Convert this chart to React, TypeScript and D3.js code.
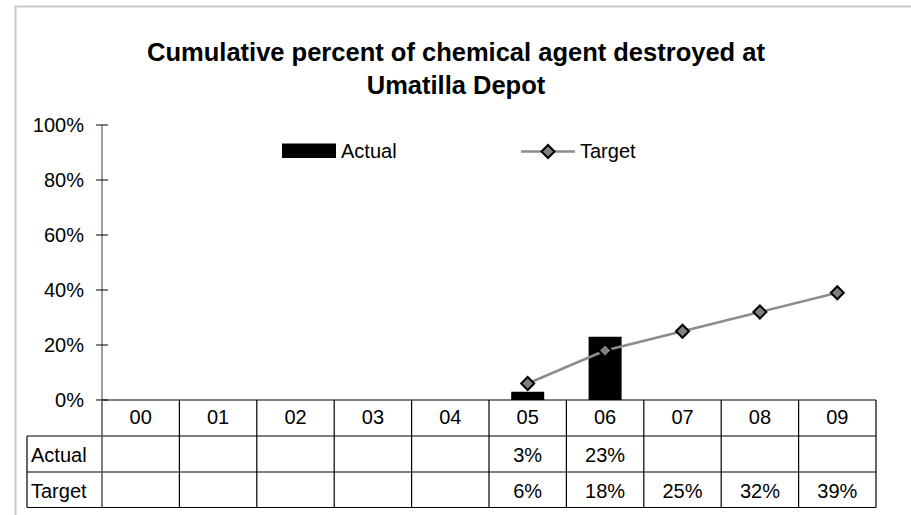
import React from "react";
import * as d3 from "d3";

const categories = ["00", "01", "02", "03", "04", "05", "06", "07", "08", "09"];
const actual: (number | null)[] = [null, null, null, null, null, 3, 23, null, null, null];
const target: (number | null)[] = [null, null, null, null, null, 6, 18, 25, 32, 39];
const yTicks = [0, 20, 40, 60, 80, 100];
const titleLines = ["Cumulative percent of chemical agent destroyed at", "Umatilla Depot"];

export default function App() {
  const W = 911, H = 515;
  const left = 102, right = 876, top = 125, bottom = 400;
  const rowLines = [400, 436, 472, 507.5];
  const rowBase = [424, 462, 497.5];
  const tableLeft = 27;
  const x = d3.scaleBand<string>().domain(categories).range([left, right]).padding(0);
  const y = d3.scaleLinear().domain([0, 100]).range([bottom, top]);
  const barW = 33;
  const font = "Liberation Sans, Arial, sans-serif";
  const fs = 20;

  const pts = categories
    .map((c, i) => ({ c, v: target[i] }))
    .filter((d) => d.v != null) as { c: string; v: number }[];
  const line = d3
    .line<{ c: string; v: number }>()
    .x((d) => x(d.c)! + x.bandwidth() / 2)
    .y((d) => y(d.v));
  const diamond = (cx: number, cy: number, r: number) =>
    `M${cx},${cy - r}L${cx + r},${cy}L${cx},${cy + r}L${cx - r},${cy}Z`;

  const rows = [
    { label: "Actual", vals: actual },
    { label: "Target", vals: target },
  ];

  return (
    <svg width={W} height={H} style={{ position: "absolute", left: 0, top: 0 }} fontFamily={font}>
      <rect x={0} y={0} width={W} height={H} fill="#fff" />
      {/* outer border */}
      <path d={`M15.5,${H}V6.5H${W}`} fill="none" stroke="#c8c8c8" strokeWidth={2} />
      {/* title */}
      {titleLines.map((t, i) => (
        <text key={i} x={456} y={60.5 + i * 33.5} textAnchor="middle" fontSize={25.5} fontWeight="bold" fill="#000">
          {t}
        </text>
      ))}
      {/* legend */}
      <rect x={282} y={143.5} width={54} height={14.5} fill="#000" />
      <text x={341} y={158} fontSize={fs} fill="#000">Actual</text>
      <line x1={521} x2={575} y1={151.5} y2={151.5} stroke="#8c8c8c" strokeWidth={2.5} />
      <path d={diamond(548, 151.5, 6.5)} fill="#808080" stroke="#000" strokeWidth={2} />
      <text x={580} y={158} fontSize={fs} fill="#000">Target</text>
      {/* y axis */}
      <line x1={left} x2={left} y1={top} y2={bottom} stroke="#808080" strokeWidth={1.5} />
      {yTicks.map((t) => (
        <g key={t}>
          <line x1={96} x2={108} y1={y(t)} y2={y(t)} stroke="#000" strokeWidth={1} />
          <text x={84} y={y(t) + 6.8} textAnchor="end" fontSize={fs} fill="#000">
            {t}%
          </text>
        </g>
      ))}
      {/* bars */}
      {categories.map((c, i) =>
        actual[i] != null ? (
          <rect
            key={c}
            x={x(c)! + x.bandwidth() / 2 - barW / 2}
            y={y(actual[i] as number)}
            width={barW}
            height={bottom - y(actual[i] as number)}
            fill="#000"
          />
        ) : null
      )}
      {/* target line */}
      <path d={line(pts) || ""} fill="none" stroke="#8c8c8c" strokeWidth={2.5} />
      {pts.map((d) => (
        <path
          key={d.c}
          d={diamond(x(d.c)! + x.bandwidth() / 2, y(d.v), 6.5)}
          fill="#808080"
          stroke="#000"
          strokeWidth={2}
        />
      ))}
      {/* data table */}
      <g stroke="#000" strokeWidth={1.2}>
        <line x1={left} x2={right} y1={rowLines[0]} y2={rowLines[0]} />
        {rowLines.slice(1).map((ry) => (
          <line key={ry} x1={tableLeft} x2={right} y1={ry} y2={ry} />
        ))}
        <line x1={tableLeft} x2={tableLeft} y1={rowLines[1]} y2={rowLines[3]} />
        {categories.map((c) => (
          <line key={c} x1={x(c)! + x.bandwidth()} x2={x(c)! + x.bandwidth()} y1={rowLines[0]} y2={rowLines[3]} />
        ))}
      </g>
      <line x1={left} x2={left} y1={rowLines[0]} y2={rowLines[3]} stroke="#555" strokeWidth={1.5} />
      {categories.map((c) => (
        <text key={c} x={x(c)! + x.bandwidth() / 2} y={rowBase[0]} textAnchor="middle" fontSize={fs} fill="#000">
          {c}
        </text>
      ))}
      {rows.map((r, ri) => (
        <g key={r.label}>
          <text x={tableLeft + 4} y={rowBase[ri + 1]} fontSize={fs} fill="#000">
            {r.label}
          </text>
          {categories.map((c, i) =>
            r.vals[i] != null ? (
              <text
                key={c}
                x={x(c)! + x.bandwidth() / 2}
                y={rowBase[ri + 1]}
                textAnchor="middle"
                fontSize={fs}
                fill="#000"
              >
                {r.vals[i]}%
              </text>
            ) : null
          )}
        </g>
      ))}
    </svg>
  );
}
